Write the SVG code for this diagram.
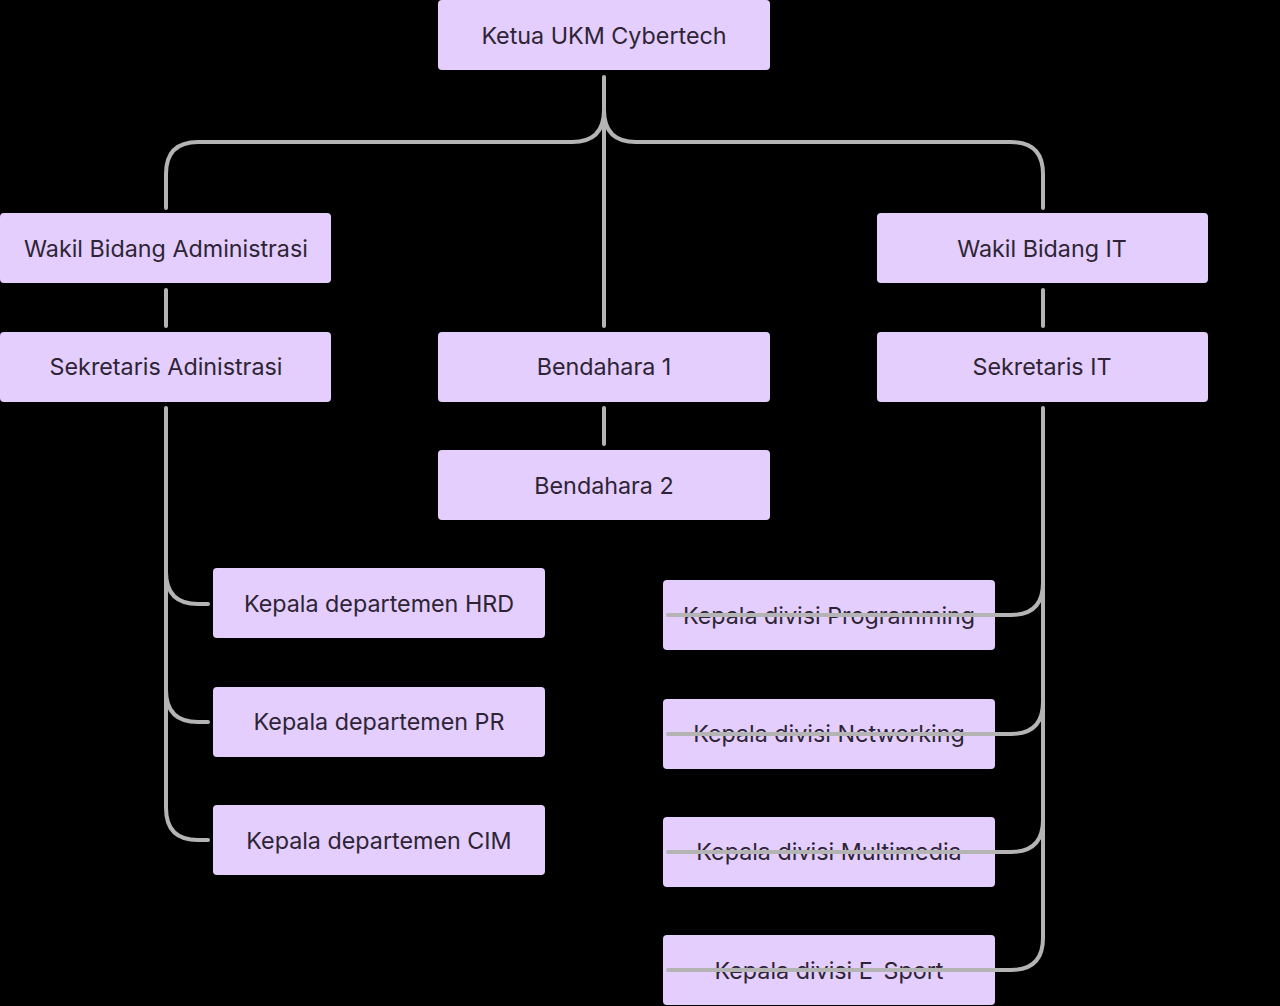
<svg xmlns="http://www.w3.org/2000/svg" width="1280" height="1006" viewBox="0 0 1280 1006">
<style>
.box{fill:#e3cefd;}
.lbl{font-family:Inter,"Liberation Sans",sans-serif;font-size:23.3px;fill:#2e2435;text-anchor:middle;}
.con{fill:none;stroke:#b4b4b4;stroke-width:4;stroke-linecap:round;}
</style>
<rect width="1280" height="1006" fill="#000"/>
<g id="n-ketua"><rect class="box" x="438" y="0" width="332" height="70" rx="4"/><text class="lbl" x="604" y="44">Ketua UKM Cybertech</text></g>
<g id="n-wakil-adm"><rect class="box" x="0" y="213" width="331" height="70" rx="4"/><text class="lbl" x="166" y="257">Wakil Bidang Administrasi</text></g>
<g id="n-wakil-it"><rect class="box" x="877" y="213" width="331" height="70" rx="4"/><text class="lbl" x="1042" y="257">Wakil Bidang IT</text></g>
<g id="n-sek-adm"><rect class="box" x="0" y="332" width="331" height="70" rx="4"/><text class="lbl" x="166" y="375">Sekretaris Adinistrasi</text></g>
<g id="n-bend1"><rect class="box" x="438" y="332" width="332" height="70" rx="4"/><text class="lbl" x="604" y="375">Bendahara 1</text></g>
<g id="n-sek-it"><rect class="box" x="877" y="332" width="331" height="70" rx="4"/><text class="lbl" x="1042" y="375">Sekretaris IT</text></g>
<g id="n-bend2"><rect class="box" x="438" y="450" width="332" height="70" rx="4"/><text class="lbl" x="604" y="494">Bendahara 2</text></g>
<g id="n-hrd"><rect class="box" x="213" y="568" width="332" height="70" rx="4"/><text class="lbl" x="379" y="612">Kepala departemen HRD</text></g>
<g id="n-pr"><rect class="box" x="213" y="687" width="332" height="70" rx="4"/><text class="lbl" x="379" y="730">Kepala departemen PR</text></g>
<g id="n-cim"><rect class="box" x="213" y="805" width="332" height="70" rx="4"/><text class="lbl" x="379" y="849">Kepala departemen CIM</text></g>
<g id="n-prog"><rect class="box" x="663" y="580" width="332" height="70" rx="4"/><text class="lbl" x="829" y="624">Kepala divisi Programming</text></g>
<g id="n-net"><rect class="box" x="663" y="699" width="332" height="70" rx="4"/><text class="lbl" x="829" y="742">Kepala divisi Networking</text></g>
<g id="n-mm"><rect class="box" x="663" y="817" width="332" height="70" rx="4"/><text class="lbl" x="829" y="860">Kepala divisi Multimedia</text></g>
<g id="n-esport"><rect class="box" x="663" y="935" width="332" height="70" rx="4"/><text class="lbl" x="829" y="979">Kepala divisi E-Sport</text></g>
<g id="connectors">
<path class="con" d="M604,77 V326"/>
<path class="con" d="M604,110 Q604,142 572,142 H198 Q166,142 166,174 V208"/>
<path class="con" d="M604,110 Q604,142 636,142 H1011 Q1043,142 1043,174 V208"/>
<path class="con" d="M166,290 V326"/>
<path class="con" d="M1043,290 V326"/>
<path class="con" d="M604,408 V444"/>
<path class="con" d="M166,408 V808 Q166,840 198,840 H208"/>
<path class="con" d="M166,572 Q166,604 198,604 H208"/>
<path class="con" d="M166,690 Q166,722 198,722 H208"/>
<path class="con" d="M1043,408 V938 Q1043,970 1011,970 H668"/>
<path class="con" d="M1043,583 Q1043,615 1011,615 H668"/>
<path class="con" d="M1043,702 Q1043,734 1011,734 H668"/>
<path class="con" d="M1043,820 Q1043,852 1011,852 H668"/>
</g>
</svg>
